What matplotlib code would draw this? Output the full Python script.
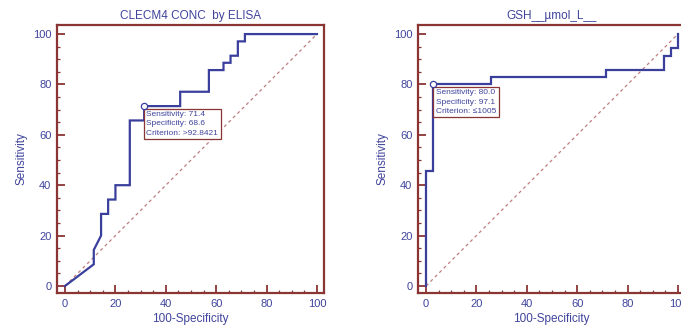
import matplotlib
matplotlib.use("Agg")
import matplotlib.pyplot as plt
from matplotlib.ticker import MultipleLocator

plt.rcParams['font.family'] = ['Liberation Sans', 'DejaVu Sans']

# ROC curve 1: CLECM4 CONC by ELISA (100-specificity, sensitivity)
clecm4_fpr = [0, 11.4, 11.4, 14.3, 14.3, 17.1, 17.1, 20.0, 20.0, 25.7, 25.7, 31.4, 31.4,
              45.7, 45.7, 57.1, 57.1, 62.9, 62.9, 65.7, 65.7, 68.6, 68.6, 71.4, 71.4, 100]
clecm4_tpr = [0, 8.6, 14.3, 20.0, 28.6, 28.6, 34.3, 34.3, 40.0, 40.0, 65.7, 65.7, 71.4,
              71.4, 77.1, 77.1, 85.7, 85.7, 88.6, 88.6, 91.4, 91.4, 97.1, 97.1, 100, 100]

# ROC curve 2: GSH (umol/L)
gsh_fpr = [0, 0, 2.9, 2.9, 25.7, 25.7, 71.4, 71.4, 94.3, 94.3, 97.1, 97.1, 100, 100]
gsh_tpr = [0, 45.7, 45.7, 80.0, 80.0, 82.9, 82.9, 85.7, 85.7, 91.4, 91.4, 94.3, 94.3, 100]

titles = ["CLECM4 CONC  by ELISA", "GSH__µmol_L__"]
cut_points = [(31.4, 71.4), (2.9, 80.0)]
box_texts = ["Sensitivity: 71.4\nSpecificity: 68.6\nCriterion: >92.8421",
             "Sensitivity: 80.0\nSpecificity: 97.1\nCriterion: \u22641005"]

spine_col = "#8b3434"
text_col = "#40449c"
line_col = "#3a3f9c"
diag_col = "#c07f7f"

W, H = 681, 327
fig = plt.figure(figsize=(W / 100, H / 100), dpi=100)

axes_px = [(57, 25, 267, 268), (418, 25, 267, 268)]
curves = [(clecm4_fpr, clecm4_tpr), (gsh_fpr, gsh_tpr)]

for i, (l, t, w, h) in enumerate(axes_px):
    ax = fig.add_axes([l / W, (H - t - h) / H, w / W, h / H])
    fpr, tpr = curves[i]
    ax.plot([0, 100], [0, 100], color=diag_col, lw=0.9, dashes=(2.5, 2.5))
    ax.plot(fpr, tpr, color=line_col, lw=1.6, solid_joinstyle='miter')
    cx, cy = cut_points[i]
    ax.plot(cx, cy, 'o', ms=4.5, mfc='white', mec=line_col, mew=0.9, zorder=5)
    ax.text(cx + 0.9, cy - 2.0, box_texts[i], fontsize=6, color=text_col,
            va='top', ha='left', linespacing=1.45,
            bbox=dict(boxstyle='square,pad=0.3', fc='white', ec=spine_col, lw=0.9))

    ax.set_xlim(-3.2, 102.8)
    ax.set_ylim(-2.8, 103.6)
    ax.xaxis.set_major_locator(MultipleLocator(20))
    ax.yaxis.set_major_locator(MultipleLocator(20))
    ax.xaxis.set_minor_locator(MultipleLocator(5))
    ax.yaxis.set_minor_locator(MultipleLocator(5))
    ax.tick_params(which='major', direction='in', length=6, width=1.3,
                   color=spine_col, labelcolor=text_col, labelsize=8, pad=4)
    ax.tick_params(which='minor', direction='in', length=2.5, width=0.9,
                   color=spine_col)
    for s in ax.spines.values():
        s.set_color(spine_col)
        s.set_linewidth(1.6)

    ax.set_title(titles[i], fontsize=8.5, color=text_col, pad=4)
    ax.set_xlabel("100-Specificity", fontsize=8.5, color=text_col, labelpad=3)
    ax.set_ylabel("Sensitivity", fontsize=8.5, color=text_col, labelpad=4)

fig.savefig("out.png", dpi=100)
